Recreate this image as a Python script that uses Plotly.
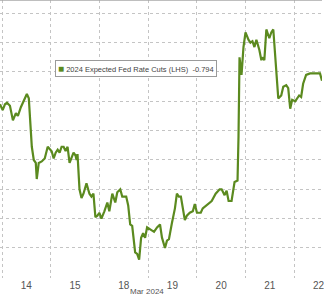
import plotly.graph_objects as go

times = [
    "2024-03-13 23:01", "2024-03-14 00:20", "2024-03-14 01:28", "2024-03-14 02:27", "2024-03-14 03:55",
    "2024-03-14 05:23", "2024-03-14 06:51", "2024-03-14 07:50", "2024-03-14 09:18", "2024-03-14 10:47",
    "2024-03-14 12:15", "2024-03-14 13:13", "2024-03-14 14:12", "2024-03-14 14:42", "2024-03-14 15:40",
    "2024-03-14 16:39", "2024-03-14 17:08", "2024-03-14 18:07", "2024-03-14 19:35", "2024-03-14 21:04",
    "2024-03-14 22:32", "2024-03-15 00:29", "2024-03-15 01:28", "2024-03-15 02:27", "2024-03-15 03:26",
    "2024-03-15 04:24", "2024-03-15 05:23", "2024-03-15 06:22", "2024-03-15 07:21", "2024-03-15 08:19",
    "2024-03-15 09:18", "2024-03-15 10:17", "2024-03-15 11:16", "2024-03-15 12:15", "2024-03-15 12:44",
    "2024-03-15 13:13", "2024-03-15 14:12", "2024-03-15 15:11", "2024-03-15 16:09", "2024-03-15 17:38",
    "2024-03-15 19:06", "2024-03-15 20:05", "2024-03-15 21:04", "2024-03-15 22:02", "2024-03-15 23:01",
    "2024-03-18 00:00", "2024-03-18 00:59", "2024-03-18 02:27", "2024-03-18 03:55", "2024-03-18 04:54",
    "2024-03-18 06:22", "2024-03-18 07:50", "2024-03-18 08:49", "2024-03-18 10:17", "2024-03-18 11:16",
    "2024-03-18 13:13", "2024-03-18 14:12", "2024-03-18 15:11", "2024-03-18 16:10", "2024-03-18 17:38",
    "2024-03-18 18:37", "2024-03-18 19:36", "2024-03-18 20:34", "2024-03-18 21:33", "2024-03-18 22:32",
    "2024-03-18 23:31", "2024-03-19 01:28", "2024-03-19 02:56", "2024-03-19 04:25", "2024-03-19 05:53",
    "2024-03-19 06:51", "2024-03-19 08:20", "2024-03-19 09:18", "2024-03-19 10:17", "2024-03-19 11:45",
    "2024-03-19 13:14", "2024-03-19 14:12", "2024-03-19 15:11", "2024-03-19 16:10", "2024-03-19 18:07",
    "2024-03-19 19:06", "2024-03-19 20:34", "2024-03-19 22:03", "2024-03-19 23:01", "2024-03-20 00:05",
    "2024-03-20 01:58", "2024-03-20 02:56", "2024-03-20 04:54", "2024-03-20 07:21", "2024-03-20 09:18",
    "2024-03-20 11:16", "2024-03-20 12:15", "2024-03-20 13:43", "2024-03-20 14:42", "2024-03-20 15:41",
    "2024-03-20 17:09", "2024-03-20 18:08", "2024-03-20 18:37", "2024-03-20 20:05", "2024-03-20 20:34",
    "2024-03-20 21:04", "2024-03-20 22:03", "2024-03-20 23:01", "2024-03-21 00:01", "2024-03-21 01:28",
    "2024-03-21 02:27", "2024-03-21 03:26", "2024-03-21 04:25", "2024-03-21 05:23", "2024-03-21 06:51",
    "2024-03-21 07:50", "2024-03-21 08:20", "2024-03-21 09:18", "2024-03-21 10:17", "2024-03-21 11:45",
    "2024-03-21 12:44", "2024-03-21 13:43", "2024-03-21 15:11", "2024-03-21 16:10", "2024-03-21 17:38",
    "2024-03-21 18:37", "2024-03-21 20:05", "2024-03-21 21:04", "2024-03-21 22:03", "2024-03-21 23:01",
    "2024-03-22 00:29", "2024-03-22 01:28", "2024-03-22 02:27", "2024-03-22 03:26", "2024-03-22 04:25",
    "2024-03-22 05:53", "2024-03-22 07:50", "2024-03-22 10:46", "2024-03-22 12:44", "2024-03-22 13:43",
]

rate_cuts = [
    -0.778, -0.774, -0.778, -0.779, -0.777,
    -0.767, -0.772, -0.770, -0.776, -0.780,
    -0.785, -0.782, -0.762, -0.749, -0.740,
    -0.738, -0.727, -0.738, -0.739, -0.741,
    -0.749, -0.746, -0.741, -0.745, -0.747,
    -0.745, -0.749, -0.749, -0.746, -0.749,
    -0.738, -0.742, -0.745, -0.743, -0.740,
    -0.744, -0.720, -0.714, -0.717, -0.724,
    -0.717, -0.715, -0.717, -0.701, -0.702,
    -0.704, -0.700, -0.705, -0.711, -0.705,
    -0.717, -0.711, -0.718, -0.720, -0.715,
    -0.715, -0.709, -0.696, -0.695, -0.677,
    -0.676, -0.672, -0.687, -0.690, -0.687,
    -0.694, -0.692, -0.691, -0.694, -0.696,
    -0.687, -0.680, -0.685, -0.686, -0.697,
    -0.707, -0.717, -0.715, -0.715, -0.699,
    -0.702, -0.704, -0.705, -0.710, -0.704,
    -0.704, -0.707, -0.709, -0.712, -0.717,
    -0.720, -0.720, -0.716, -0.719, -0.712,
    -0.712, -0.720, -0.725, -0.726, -0.756,
    -0.810, -0.798, -0.817, -0.827, -0.822,
    -0.820, -0.821, -0.817, -0.822, -0.815,
    -0.808, -0.810, -0.808, -0.829, -0.823,
    -0.827, -0.829, -0.803, -0.782, -0.784,
    -0.790, -0.791, -0.789, -0.775, -0.781,
    -0.780, -0.782, -0.784, -0.783, -0.792,
    -0.798, -0.799, -0.799, -0.799, -0.794,
]

day_starts = ["2024-03-14", "2024-03-15", "2024-03-18", "2024-03-19",
              "2024-03-20", "2024-03-21", "2024-03-22"]
day_labels = ["14", "15", "18", "19", "20", "21", "22"]
day_mids = [d + " 12:00" for d in day_starts]
y_grid = [-0.84, -0.82, -0.80, -0.78, -0.76, -0.74, -0.72, -0.70, -0.68, -0.66]
series_name = "2024 Expected Fed Rate Cuts (LHS)"
last_value = rate_cuts[-1]
month_label = "Mar 2024"

GREEN = "#5b8a1f"
GRID = "#c4c4c4"

fig = go.Figure()
fig.add_trace(go.Scatter(
    x=times, y=rate_cuts, mode="lines",
    line=dict(color=GREEN, width=2.2),
    name=series_name, showlegend=False, hoverinfo="skip",
))

fig.update_layout(
    width=324, height=296,
    margin=dict(l=0, r=0, t=0, b=18),
    paper_bgcolor="white", plot_bgcolor="white",
    font=dict(family="Liberation Sans, Arial, sans-serif", color="#555555"),
    showlegend=False,
)

fig.update_xaxes(
    type="date",
    range=["2024-03-13 23:01", "2024-03-22 13:43"],
    rangebreaks=[dict(bounds=["sat", "mon"])],
    tickmode="array", tickvals=day_mids, ticktext=day_labels,
    ticks="", showgrid=False, showline=False, zeroline=False,
    ticklabeloverflow="allow",
    tickfont=dict(size=10, color="#555555"),
    minor=dict(tickmode="array", tickvals=day_starts, showgrid=True,
               griddash="dot", gridcolor=GRID, gridwidth=1, ticks=""),
)

fig.update_yaxes(
    range=[-0.6595, -0.8491],
    tickmode="array", tickvals=y_grid,
    showticklabels=False, ticks="",
    showgrid=True, griddash="dot", gridcolor=GRID, gridwidth=1,
    zeroline=False, showline=False,
)

# thin frame line at the top edge
fig.add_shape(type="line", xref="paper", yref="paper", x0=0, x1=1, y0=1, y1=1,
              line=dict(color="#a8a8a8", width=1.5))

fig.add_annotation(
    x=0.457, xref="paper", y=-0.05, yref="paper",
    text=month_label, showarrow=False, yanchor="middle", xanchor="center",
    font=dict(size=8, color="#555555"),
)

fig.add_annotation(
    x=55 / 324, xref="paper", y=0.755, yref="paper",
    text=(f"<span style='color:{GREEN};font-size:10px'>■</span> "
          f"{series_name}  {last_value:.3f}"),
    showarrow=False, xanchor="left", yanchor="middle",
    font=dict(size=7.5, color="#444444"),
    bgcolor="white", bordercolor="#9a9a9a", borderwidth=1, borderpad=2,
)

fig.write_html("out.html")
